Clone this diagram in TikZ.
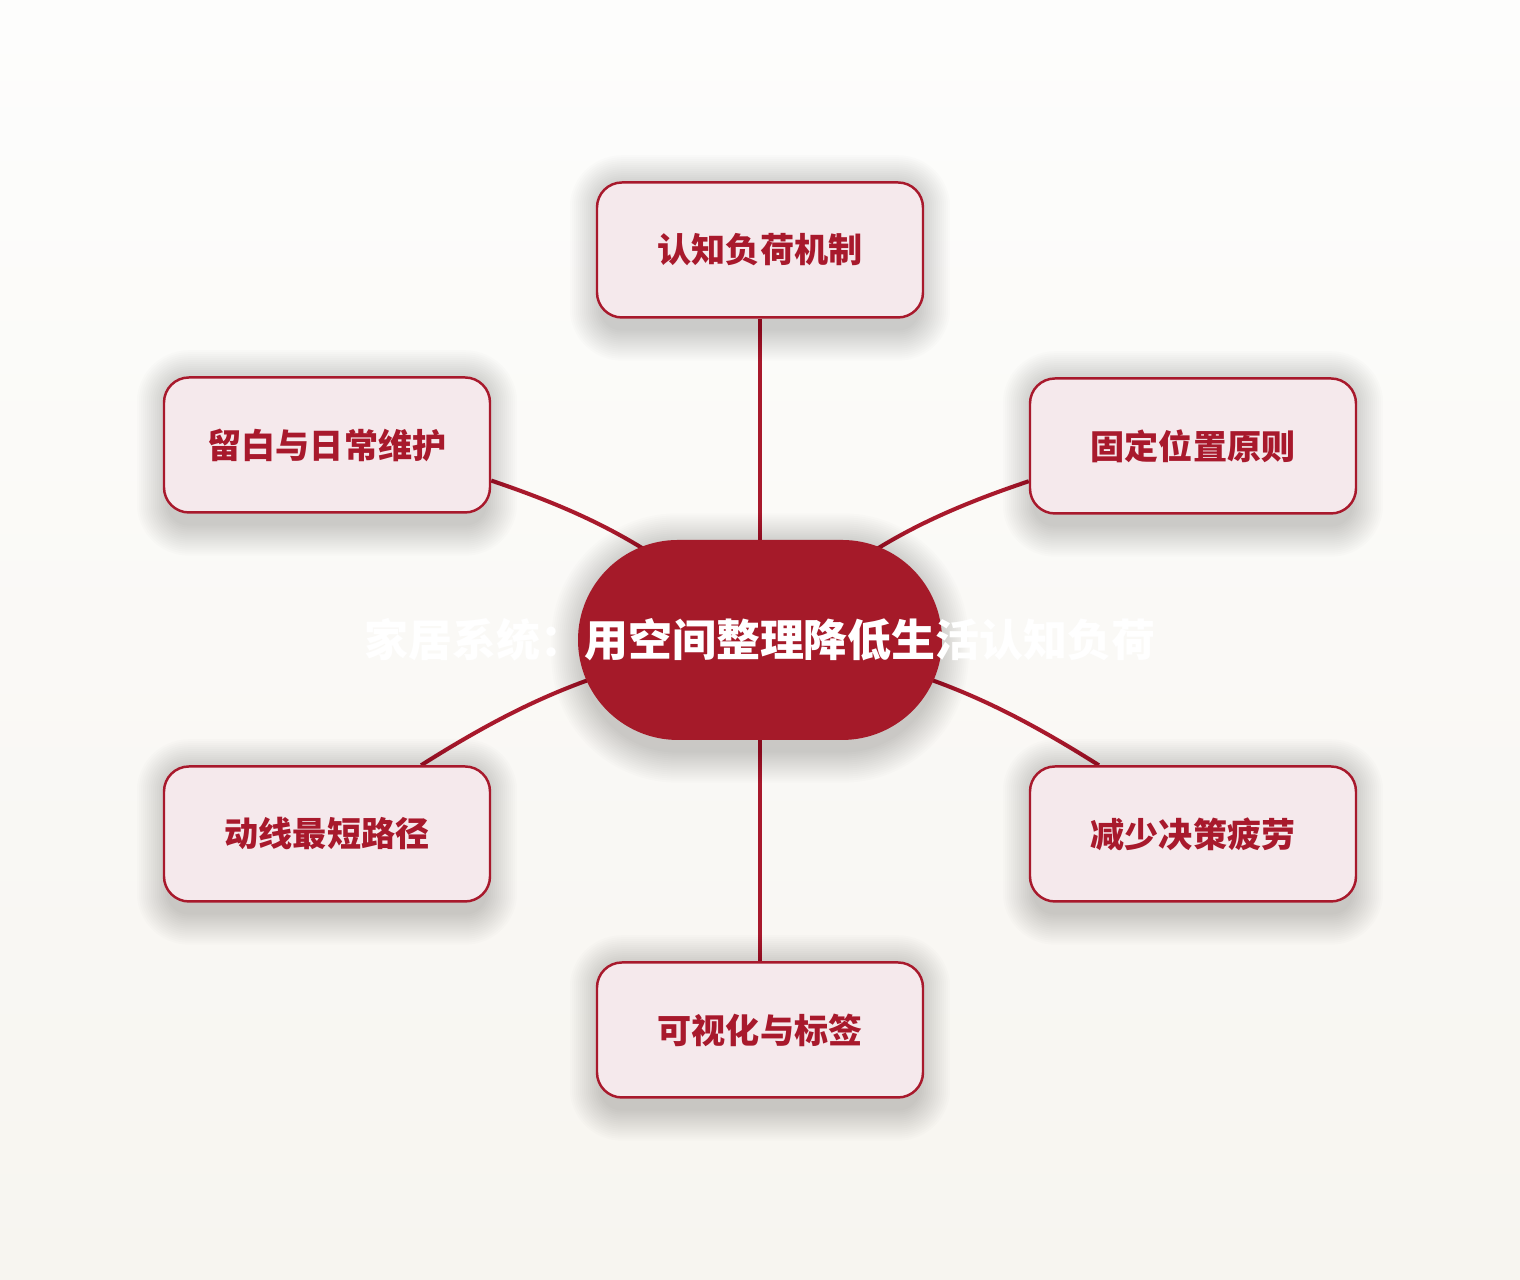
\documentclass[tikz,border=0pt]{standalone}
\usepackage{fontspec}
\newfontfamily\cjk{Noto Sans CJK SC}
\usetikzlibrary{backgrounds}

\definecolor{hubred}{HTML}{A51A29}
\definecolor{topicfill}{HTML}{F5E9EC}
\definecolor{topicline}{HTML}{A8192C}
\definecolor{bgtop}{HTML}{FDFDFC}
\definecolor{bgbottom}{HTML}{F7F5F0}

\begin{document}
\begin{tikzpicture}[
  topic/.style = {draw = topicline, line width = 0.7pt, fill = topicfill, rounded corners = 0.25cm,
    minimum width = 3.26cm, minimum height = 1.35cm, text = topicline,
    font = \cjk\bfseries\fontsize{9.7}{12}\selectfont},
  hub/.style = {fill = hubred, rounded corners = 1cm, minimum width = 3.64cm, minimum height = 2cm,
    text = white, font = \cjk\bfseries\fontsize{12.5}{15}\selectfont},
  haze/.style = {fill = black, opacity = 0.011},
  link/.style = {draw = topicline, line width = 1.15pt}
]
%\draw[very thin, color = gray](0, 0) grid (15, 12);
\useasboundingbox (0, 0) rectangle (15.2, 12.8);
\node [hub] (hub) at (7.6, 6.4) {\makebox[0pt]{家居系统：用空间整理降低生活认知负荷}};
\node [topic] (load) at (7.6, 10.3) {认知负荷机制};
\node [topic] (fixed) at (11.93, 8.34) {固定位置原则};
\node [topic] (keep) at (3.27, 8.35) {留白与日常维护};
\node [topic] (path) at (3.27, 4.46) {动线最短路径};
\node [topic] (tired) at (11.93, 4.46) {减少决策疲劳};
\node [topic] (label) at (7.6, 2.5) {可视化与标签};
\begin{pgfonlayer}{background}
\shade [top color = bgtop, bottom color = bgbottom] (0, 0) rectangle (15.2, 12.8);
\draw [link] (hub.center) -- (load);
\draw [link] (hub.center) to [bend left = 12] (fixed);
\draw [link] (hub.center) to [bend right = 12] (keep);
\draw [link] (hub.center) to [bend right = 12] (path);
\draw [link] (hub.center) to [bend left = 12] (tired);
\draw [link] (hub.center) -- (label);
% soft shadows
\foreach \n in {load, fixed, keep, path, tired, label} {
  \foreach \r in {1, ..., 16} {
    \pgfmathsetmacro\rad{0.2 + 0.02*\r}
    \fill [haze, rounded corners = \rad cm] ([shift = {(0.06 - 0.02*\r, -0.10 - 0.02*\r)}] \n.south west)
      rectangle ([shift = {(0.02*\r - 0.06, 0.02*\r - 0.06)}] \n.north east);
  }
}
\foreach \r in {1, ..., 16} {
  \pgfmathsetmacro\rad{0.94 + 0.02*\r}
  \fill [haze, rounded corners = \rad cm] ([shift = {(0.06 - 0.02*\r, -0.10 - 0.02*\r)}] hub.south west)
    rectangle ([shift = {(0.02*\r - 0.06, 0.02*\r - 0.06)}] hub.north east);
}
\end{pgfonlayer}
\end{tikzpicture}
\end{document}
